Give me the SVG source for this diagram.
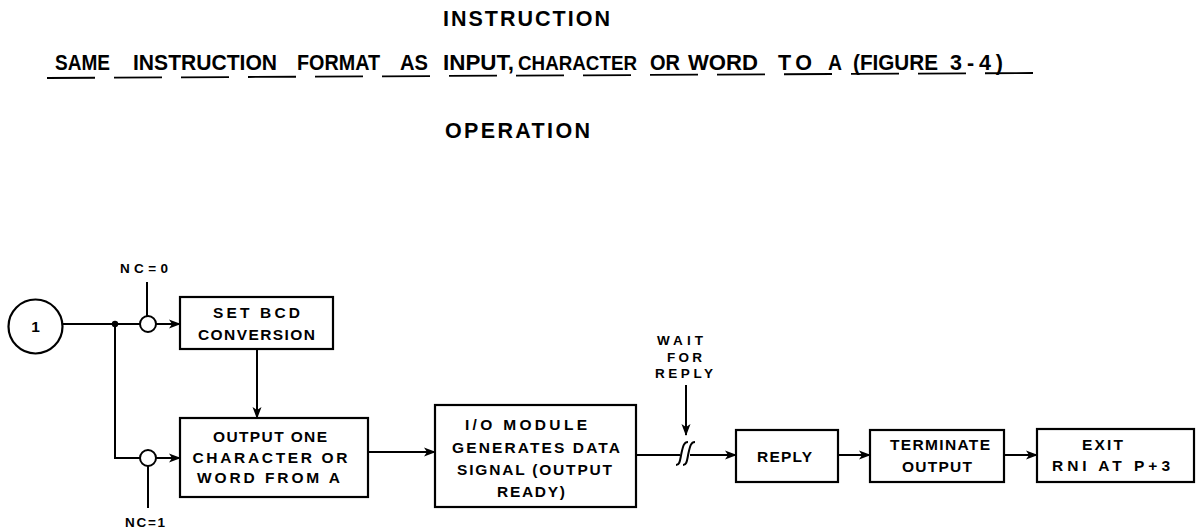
<svg xmlns="http://www.w3.org/2000/svg" width="1198" height="529" viewBox="0 0 1198 529">
<defs>
<marker id="arr" viewBox="0 0 12 10" refX="11" refY="5" markerWidth="12" markerHeight="10" markerUnits="userSpaceOnUse" orient="auto">
<path d="M0,0.5 L12,5 L0,9.5 L3,5 z" fill="#000"/>
</marker>
<style>
text{font-family:"Liberation Sans",Arial,sans-serif;font-weight:bold;fill:#000}
.h{font-size:21.5px}
.w{font-size:21.5px}
.b{font-size:15.5px}
.s{font-size:13.5px}
.box{fill:#fff;stroke:#000;stroke-width:2.2}
.ln{fill:none;stroke:#000;stroke-width:2}
.m{text-anchor:middle}
</style>
</defs>
<rect width="1198" height="529" fill="#fff"/>

<g id="header">
<text class="h" x="443" y="26" textLength="167">INSTRUCTION</text>
<text class="w" x="55" y="70" textLength="55" lengthAdjust="spacingAndGlyphs">SAME</text>
<text class="w" x="133" y="70" textLength="144" lengthAdjust="spacingAndGlyphs">INSTRUCTION</text>
<text class="w" x="297" y="70" textLength="83" lengthAdjust="spacingAndGlyphs">FORMAT</text>
<text class="w" x="400" y="70" textLength="28" lengthAdjust="spacingAndGlyphs">AS</text>
<text class="w" x="443" y="70" textLength="71" lengthAdjust="spacingAndGlyphs">INPUT,</text>
<text class="w" x="518" y="70" textLength="119" lengthAdjust="spacingAndGlyphs" style="font-size:20px">CHARACTER</text>
<text class="w" x="650" y="70" textLength="30" lengthAdjust="spacingAndGlyphs">OR</text>
<text class="w" x="688" y="70" textLength="70" lengthAdjust="spacingAndGlyphs">WORD</text>
<text class="w" x="778" y="70" textLength="34">TO</text>
<text class="w" x="828" y="70" textLength="14" lengthAdjust="spacingAndGlyphs">A</text>
<text class="w" x="853" y="70" textLength="85" lengthAdjust="spacingAndGlyphs">(FIGURE</text>
<text class="w" x="950" y="70" textLength="53">3-4)</text>
<line x1="47" y1="78" x2="1034" y2="73" stroke="#000" stroke-width="1.8" stroke-dasharray="48 19"/>
<text class="h" x="445" y="138" textLength="145">OPERATION</text>
</g>

<g id="connectors">
<path class="ln" d="M63,324 H140"/>
<path class="ln" d="M156,324 H180" marker-end="url(#arr)"/>
<path class="ln" d="M115,324 V458 H140"/>
<path class="ln" d="M156,458 H180" marker-end="url(#arr)"/>
<circle cx="115" cy="324" r="3.2" fill="#000"/>
<circle cx="148" cy="324" r="8" fill="#fff" stroke="#000" stroke-width="2"/>
<circle cx="148" cy="458" r="8" fill="#fff" stroke="#000" stroke-width="2"/>
<path class="ln" d="M147,282 V316"/>
<path class="ln" d="M148,466 V508"/>
<path class="ln" d="M257,349 V418" marker-end="url(#arr)"/>
<path class="ln" d="M368,452 H435" marker-end="url(#arr)"/>
<path class="ln" d="M636,455 H680"/>
<path class="ln" d="M676,465 C680,465 680,460 681.5,453 C683,446 684,442 688,442"/>
<path class="ln" d="M683,465 C687,465 687,460 688.5,453 C690,446 691,442 695,442"/>
<path class="ln" d="M690,455 H736" marker-end="url(#arr)"/>
<path class="ln" d="M686,385 V435" marker-end="url(#arr)"/>
<path class="ln" d="M838,455 H870" marker-end="url(#arr)"/>
<path class="ln" d="M1004,455 H1037" marker-end="url(#arr)"/>
</g>

<g id="start">
<circle cx="35.5" cy="326.5" r="27" fill="#fff" stroke="#000" stroke-width="2.2"/>
<text class="b m" x="35.5" y="332">1</text>
</g>

<g id="nc0"><text class="s m" x="144" y="273" textLength="48">NC=0</text></g>
<g id="nc1"><text class="s m" x="145" y="527" textLength="40">NC=1</text></g>

<g id="setbcd">
<rect class="box" x="180" y="297" width="153" height="52"/>
<text class="b m" x="256.5" y="318" textLength="87">SET  BCD</text>
<text class="b m" x="256.5" y="340" textLength="117">CONVERSION</text>
</g>

<g id="output">
<rect class="box" x="180" y="418" width="188" height="79"/>
<text class="b m" x="270" y="442" textLength="114">OUTPUT ONE</text>
<text class="b m" x="270" y="463" textLength="155">CHARACTER  OR</text>
<text class="b m" x="268.5" y="483" textLength="143">WORD FROM A</text>
</g>

<g id="iomodule">
<rect class="box" x="435" y="405" width="201" height="102"/>
<text class="b m" x="526" y="430" textLength="122">I/O MODULE</text>
<text class="b m" x="536" y="453" textLength="168">GENERATES  DATA</text>
<text class="b m" x="534.5" y="475" textLength="155">SIGNAL (OUTPUT</text>
<text class="b m" x="531" y="497" textLength="68">READY)</text>
</g>

<g id="wait">
<text class="s m" x="680" y="345" textLength="46">WAIT</text>
<text class="s m" x="684.5" y="362" textLength="35">FOR</text>
<text class="s m" x="684" y="378" textLength="58">REPLY</text>
</g>

<g id="reply">
<rect class="box" x="736" y="430" width="102" height="52"/>
<text class="b m" x="784.5" y="462" textLength="55">REPLY</text>
</g>

<g id="terminate">
<rect class="box" x="870" y="430" width="134" height="52"/>
<text class="b m" x="940" y="450" textLength="100">TERMINATE</text>
<text class="b m" x="937" y="472" textLength="70">OUTPUT</text>
</g>

<g id="exit">
<rect class="box" x="1037" y="429" width="157" height="53"/>
<text class="b m" x="1102.5" y="450" textLength="41">EXIT</text>
<text class="b m" x="1111" y="471" textLength="118">RNI  AT  P+3</text>
</g>
</svg>
